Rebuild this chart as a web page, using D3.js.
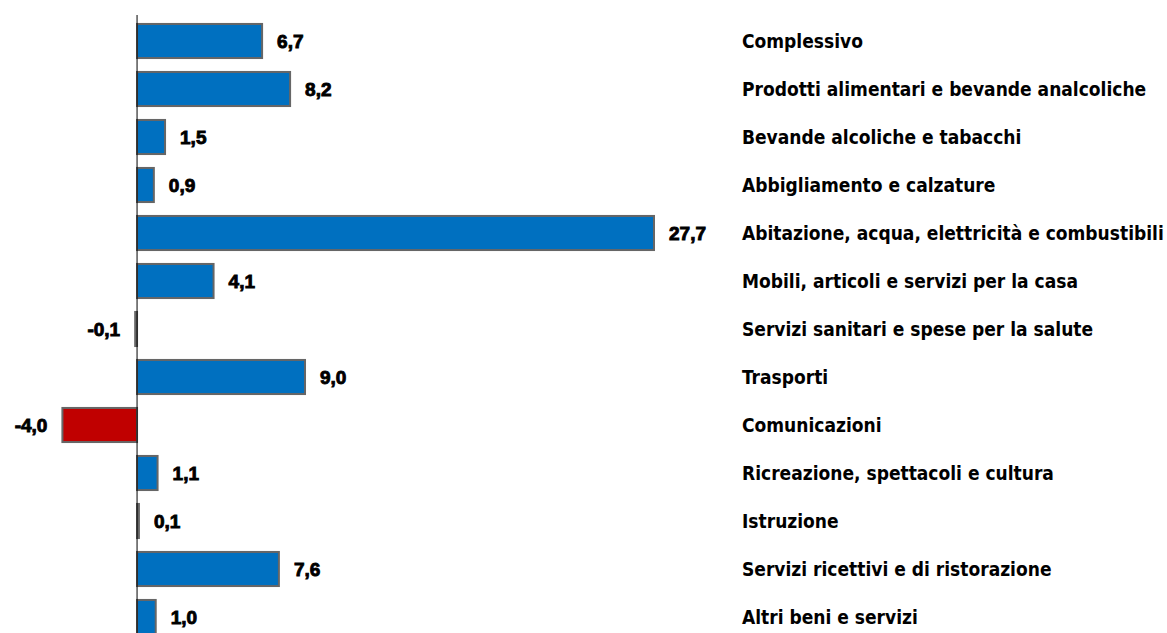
<!DOCTYPE html>
<html>
<head>
<meta charset="utf-8">
<script src="https://cdn.jsdelivr.net/npm/d3@7"></script>
<style>
  body { margin: 0; background: #fff; }
  .cat { font-family: "DejaVu Sans Condensed", "DejaVu Sans", sans-serif; font-weight: bold; font-size: 19px; fill: #000; }
  .val { font-family: "Liberation Sans", Arial, sans-serif; font-weight: bold; font-size: 19px; fill: #000; stroke: #000; stroke-width: 0.9px; }
</style>
</head>
<body>
<div id="chart"></div>
<script>
// categories and values (% change)
var categories = [
  "Complessivo",
  "Prodotti alimentari e bevande analcoliche",
  "Bevande alcoliche e tabacchi",
  "Abbigliamento e calzature",
  "Abitazione, acqua, elettricità e combustibili",
  "Mobili, articoli e servizi per la casa",
  "Servizi sanitari e spese per la salute",
  "Trasporti",
  "Comunicazioni",
  "Ricreazione, spettacoli e cultura",
  "Istruzione",
  "Servizi ricettivi e di ristorazione",
  "Altri beni e servizi"
];
var values = [6.7, 8.2, 1.5, 0.9, 27.7, 4.1, -0.1, 9.0, -4.0, 1.1, 0.1, 7.6, 1.0];

var svgWidth = 1167, svgHeight = 633;

var svg = d3.select("#chart")
  .append("svg")
  .attr("width", svgWidth)
  .attr("height", svgHeight);

var data = categories.map(function(c, i) { return { cat: c, value: values[i] }; });

// x: 0 sits at 137px, 27.7 ends near 654px
var xScale = d3.scaleLinear()
  .domain([-4, 27.7])
  .range([62.4, 654]);

var yScale = d3.scaleBand()
  .domain(categories)
  .range([17, 641])
  .paddingInner(0.29)
  .paddingOuter(0.145);

var fmt = function(v) { return d3.format(".1f")(v).replace(".", ",").replace("−", "-"); };

svg.selectAll("rect.bar")
  .data(data)
  .enter()
  .append("rect")
  .attr("class", "bar")
  .attr("x", d => xScale(Math.min(0, d.value)))
  .attr("y", d => yScale(d.cat))
  .attr("width", d => Math.abs(xScale(d.value) - xScale(0)))
  .attr("height", yScale.bandwidth())
  .attr("fill", d => d.value < -1 ? "#c00000" : "#0070c0")
  .attr("stroke", "#666666")
  .attr("stroke-width", 2);

// zero axis
svg.append("line")
  .attr("x1", xScale(0)).attr("x2", xScale(0))
  .attr("y1", 15).attr("y2", svgHeight)
  .attr("stroke", "#000")
  .attr("stroke-width", 1);

// value labels
svg.selectAll("text.val")
  .data(data)
  .enter()
  .append("text")
  .attr("class", "val")
  .attr("x", d => d.value < 0 ? xScale(d.value) - 15 : xScale(d.value) + 15)
  .attr("y", d => yScale(d.cat) + yScale.bandwidth() / 2)
  .attr("dy", "0.35em")
  .attr("text-anchor", d => d.value < 0 ? "end" : "start")
  .text(d => fmt(d.value));

// category labels
svg.selectAll("text.cat")
  .data(data)
  .enter()
  .append("text")
  .attr("class", "cat")
  .attr("x", 742)
  .attr("y", d => yScale(d.cat) + yScale.bandwidth() / 2)
  .attr("dy", "0.35em")
  .text(d => d.cat);
</script>
</body>
</html>
